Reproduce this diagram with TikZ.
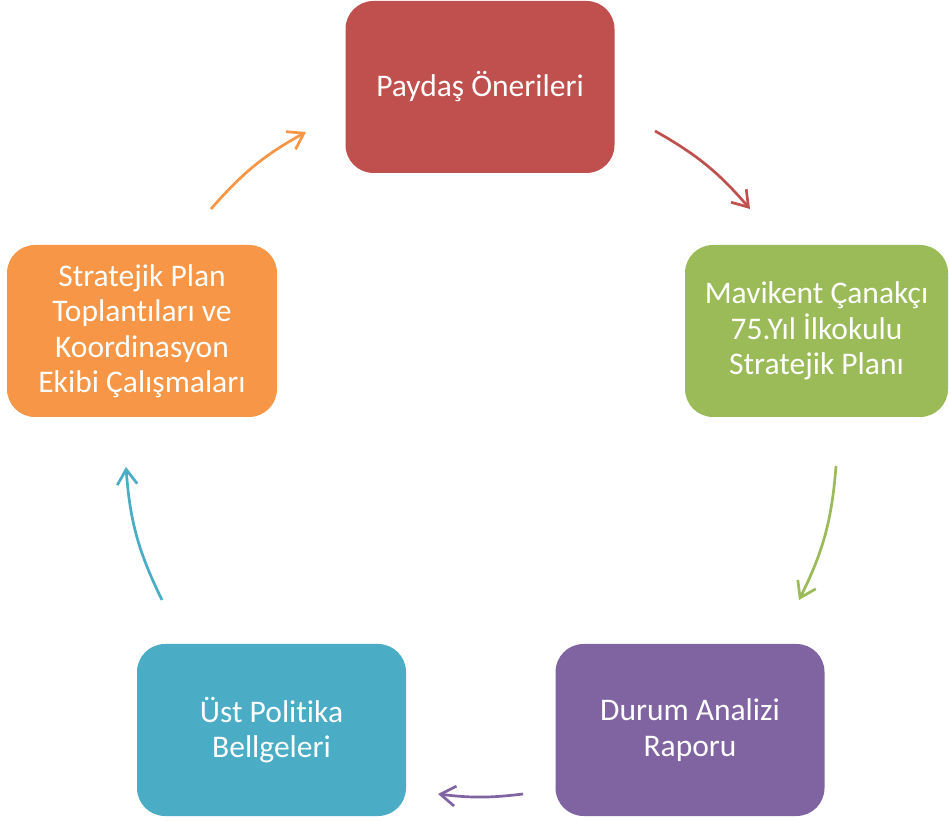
\documentclass[tikz,border=0pt]{standalone}
\usepackage{fontspec}
\setmainfont{Carlito}[Ligatures={NoCommon}]
\usetikzlibrary{arrows.meta}
\definecolor{cred}{HTML}{C0504D}
\definecolor{cgreen}{HTML}{9BBB59}
\definecolor{cpurple}{HTML}{8064A2}
\definecolor{cteal}{HTML}{4BACC6}
\definecolor{corange}{HTML}{F79646}
\tikzset{
  box/.style={rounded corners=28pt, minimum width=269pt, minimum height=172pt,
    inner sep=0pt, text=white, align=center,
    font=\fontsize{31.5pt}{35.5pt}\selectfont},
  cyc/.style={line width=2.7pt, -{Straight Barb[length=15pt,width=20pt]}}
}
\begin{document}
\begin{tikzpicture}[x=1pt,y=1pt]
\useasboundingbox (0,0) rectangle (949,821);
\node[box, fill=cred] (top) at (480,734) {Paydaş Önerileri};
\node[box, fill=cgreen, minimum width=263pt] (right) at (816.5,490) {Mavikent Çanakçı\\75.Yıl İlkokulu\\Stratejik Planı};
\node[box, fill=cpurple] (br) at (690,91) {Durum Analizi\\Raporu};
\node[box, fill=cteal] (bl) at (271.5,91) {Üst Politika\\Bellgeleri};
\node[box, fill=corange, minimum width=270pt] (left) at (142,490) {Stratejik Plan\\Toplantıları ve\\Koordinasyon\\Ekibi Çalışmaları};
\coordinate (r1) at (655,690); \coordinate (r2) at (750,612);
\coordinate (g1) at (836,355); \coordinate (g2) at (799,221);
\coordinate (p1) at (523,27);  \coordinate (p2) at (438,27);
\coordinate (t1) at (162,221); \coordinate (t2) at (126,354);
\coordinate (o1) at (211,612); \coordinate (o2) at (306,689);
\draw[cyc, cred] (r1) to[bend left=10] (r2);
\draw[cyc, cgreen] (g1) to[bend left=11] (g2);
\draw[cyc, cpurple] (p1) to[bend left=7] (p2);
\draw[cyc, cteal] (t1) to[bend left=11] (t2);
\draw[cyc, corange] (o1) to[bend left=10] (o2);
\end{tikzpicture}
\end{document}
